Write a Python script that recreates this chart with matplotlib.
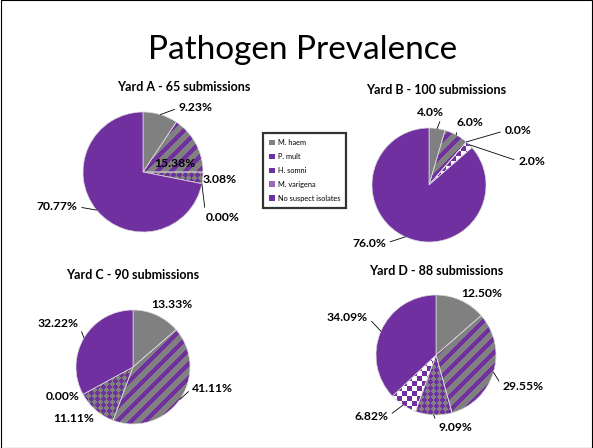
import numpy as np
import matplotlib as mpl
mpl.use('Agg')
import matplotlib.pyplot as plt
from matplotlib.patches import Patch, Rectangle

plt.rcParams['font.family'] = ['Lato', 'DejaVu Sans']

# data
categories = ['M. haem', 'P. mult', 'H. somni', 'M. varigena', 'No suspect isolates']
yards = ['Yard A - 65 submissions', 'Yard B - 100 submissions',
         'Yard C - 90 submissions', 'Yard D - 88 submissions']
yard_a = [9.23, 15.38, 3.08, 0.00, 70.77]
yard_b = [4.0, 6.0, 0.0, 2.0, 76.0]
yard_c = [13.33, 41.11, 11.11, 0.00, 32.22]
yard_d = [12.50, 29.55, 9.09, 6.82, 34.09]
decimals = [2, 1, 2, 2]

W, H = 593, 448
GRAY = np.array([128, 128, 128]) / 255.
PURPLE = np.array([112, 48, 160]) / 255.
WHITE = np.array([1.0, 1.0, 1.0])

# layout (pixels): centre x, centre y, radius
pie_pos = [(143, 172, 60), (429, 185, 57), (133, 367, 57), (436, 355, 60)]
title_pos = [(184, 87), (436, 90), (133, 275), (436, 271)]
label_pos = [
    [(0.88, 1.07), (0.53, 0.15), (1.28, -0.12), (1.33, -0.75), (-1.43, -0.58)],
    [(0.02, 1.28), (0.72, 1.09), (1.56, 0.95), (1.8, 0.42), (-1.05, -1.02)],
    [(0.68, 1.09), (1.4, -0.37), (-1.04, -0.91), (-1.23, -0.51), (-1.32, 0.77)],
    [(0.77, 1.03), (1.45, -0.53), (0.32, -1.2), (-1.08, -1.02), (-1.48, 0.63)],
]
leaders = [
    [True, False, False, True, True],
    [True, True, True, True, True],
    [False, True, False, False, True],
    [False, True, True, True, True],
]


def pattern(kind, n):
    i, j = np.mgrid[0:n, 0:n]
    img = np.zeros((n, n, 3))
    if kind == 'stripes':
        m = (i + j) % 14 < 6
        img[:] = GRAY
        img[m] = PURPLE
    elif kind == 'diamonds':
        m = (((i + j) // 6) % 2) ^ (((i - j) // 6) % 2)
        img[:] = PURPLE
        img[m.astype(bool)] = GRAY
    elif kind == 'checker':
        m = ((i // 5) % 2) ^ ((j // 5) % 2)
        img[:] = PURPLE
        img[m.astype(bool)] = WHITE
    return img


styles = [None, 'stripes', 'diamonds', 'checker', None]
solid = [GRAY, 'none', 'none', 'none', PURPLE]

fig = plt.figure(figsize=(W / 100, H / 100), dpi=100)
fig.patch.set_facecolor('white')

fig.text(303 / W, 1 - 50 / H, 'Pathogen Prevalence', ha='center', va='center',
         fontsize=24)

k = 1.9
for idx, vals in enumerate([yard_a, yard_b, yard_c, yard_d]):
    cx, cy, r = pie_pos[idx]
    s = r * k
    ax = fig.add_axes([(cx - s) / W, 1 - (cy + s) / H, 2 * s / W, 2 * s / H])
    ax.set_xlim(-k, k)
    ax.set_ylim(-k, k)
    ax.axis('off')
    wedges, _ = ax.pie(vals, startangle=90, counterclock=False, colors=solid,
                       wedgeprops=dict(edgecolor=(0.85, 0.85, 0.85), linewidth=0.5))
    n = int(round(2 * s))
    for w, st in zip(wedges, styles):
        if st is None:
            continue
        im = ax.imshow(pattern(st, n), extent=(-k, k, -k, k), interpolation='nearest',
                       zorder=0.5)
        im.set_clip_path(w)
    ax.set_xlim(-k, k)
    ax.set_ylim(-k, k)

    total = sum(vals)
    cum = 0
    for v, (lx, ly), lead in zip(vals, label_pos[idx], leaders[idx]):
        theta = np.deg2rad(90 - 360 * (cum + v / 2) / total)
        cum += v
        txt = '{:.{d}f}%'.format(v, d=decimals[idx])
        ex, ey = np.cos(theta), np.sin(theta)
        if lead:
            rel = (0, 0.5) if lx > ex else (1, 0.5)
            ax.annotate(txt, xy=(ex, ey), xytext=(lx, ly), ha='center', va='center',
                        fontsize=8.7, fontweight='bold',
                        arrowprops=dict(arrowstyle='-', color='black', lw=0.6,
                                        shrinkA=1, shrinkB=0, relpos=rel))
        else:
            ax.text(lx, ly, txt, ha='center', va='center', fontsize=8.7,
                    fontweight='bold')

    tx, ty = title_pos[idx]
    fig.text(tx / W, 1 - ty / H, yards[idx], ha='center', va='center',
             fontsize=9, fontweight='bold')

legend_colors = [GRAY, PURPLE, PURPLE, (0.6, 0.4, 0.75), PURPLE]
handles = [Patch(facecolor=c, edgecolor='none') for c in legend_colors]
leg = fig.legend(handles, categories, loc='upper left',
                 bbox_to_anchor=(263 / W, 1 - 133 / H), fontsize=5.3,
                 frameon=True, fancybox=False, edgecolor='black',
                 handlelength=0.8, handleheight=0.8, handletextpad=0.4,
                 labelspacing=0.95, borderpad=0.8, borderaxespad=0)
leg.get_frame().set_linewidth(1.6)

fig.patches.append(Rectangle((0.001, 0.001), 0.998, 0.998, transform=fig.transFigure,
                             fill=False, edgecolor='black', linewidth=0.8))

fig.savefig('out.png', dpi=100)
